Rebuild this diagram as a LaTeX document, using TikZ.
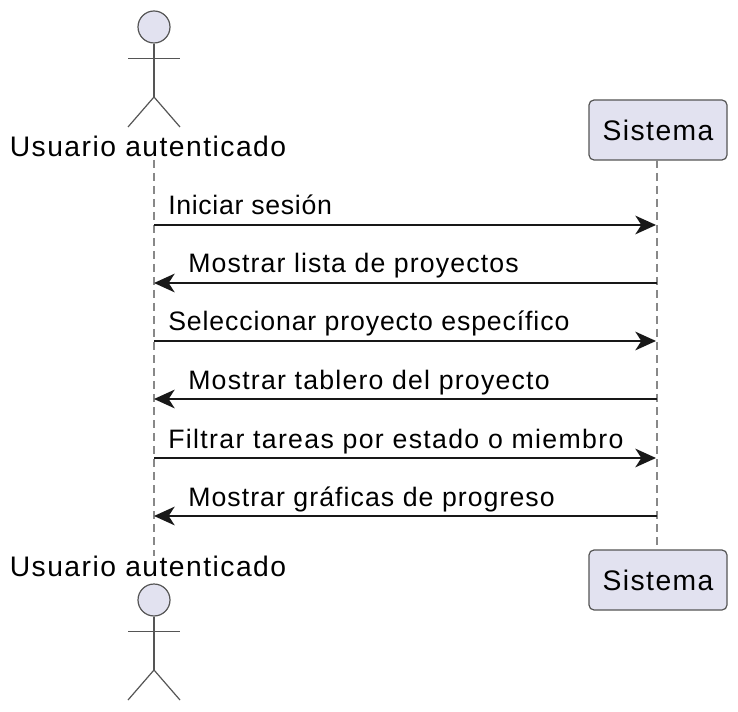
\documentclass[tikz,border=0pt]{standalone}
\usepackage{fontspec}
\setmainfont{Liberation Sans}
\usetikzlibrary{arrows.meta}

\definecolor{actorfill}{HTML}{E2E2F0}
\definecolor{actorline}{HTML}{555555}
\definecolor{msgline}{HTML}{181818}

\begin{document}
\begin{tikzpicture}[
    x=0.75pt,
    y=-0.75pt,
    >={Stealth[length=15.5pt,width=14pt,inset=4.5pt]},
    txt/.style = {
      font=\fontsize{21.2}{25}\selectfont\addfontfeature{LetterSpace=5.2},
      text = black,
      inner sep = 0pt
    },
    msg/.style = {
      font=\fontsize{20}{24}\selectfont\addfontfeature{LetterSpace=#1},
      text = black,
      inner sep = 0pt,
      anchor = base west
    },
    head/.style = {
      draw = actorline,
      fill = actorfill,
      circle,
      line width = 0.9pt,
      inner sep = 0pt,
      minimum size = 24pt
    },
    limb/.style = {
      draw = actorline,
      line width = 0.9pt
    },
    box/.style = {
      txt,
      draw = actorline,
      fill = actorfill,
      rectangle,
      rounded corners = 3.75pt,
      line width = 0.9pt,
      minimum width = 103.5pt,
      minimum height = 45pt
    },
    life/.style = {
      draw = actorline!70,
      line width = 1pt,
      dash pattern = on 6pt off 3.75pt
    },
    call/.style = {
      ->,
      draw = msgline,
      line width = 1.4pt
    }
  ]
  \useasboundingbox (0,0) rectangle (738,712);

  % lifelines
  \coordinate (usrtop) at (154,160);
  \coordinate (usrbot) at (154,556);
  \node[box] (systop) at (658,130) {Sistema};
  \node[box] (sysbot) at (658,580) {Sistema};
  \coordinate (systail) at (657,160);
  \coordinate (syshead) at (657,550);
  \draw[life] (usrtop) -- (usrbot);
  \draw[life] (systail) -- (syshead);

  % upper actor
  \node[head] (headA) at (154,27) {};
  \coordinate (armAl) at (128,58.5);
  \coordinate (armAr) at (180,58.5);
  \coordinate (hipA) at (154,97);
  \coordinate (legAl) at (128,127);
  \coordinate (legAr) at (180,127);
  \draw[limb] (headA.south) -- (hipA);
  \draw[limb] (armAl) -- (armAr);
  \draw[limb] (legAl) -- (hipA) -- (legAr);
  \node[txt] (nameA) at (148,146) {Usuario autenticado};

  % lower actor
  \node[txt] (nameB) at (148,566) {Usuario autenticado};
  \node[head] (headB) at (154,600) {};
  \coordinate (armBl) at (128,631.5);
  \coordinate (armBr) at (180,631.5);
  \coordinate (hipB) at (154,670);
  \coordinate (legBl) at (128,700);
  \coordinate (legBr) at (180,700);
  \draw[limb] (headB.south) -- (hipB);
  \draw[limb] (armBl) -- (armBr);
  \draw[limb] (legBl) -- (hipB) -- (legBr);

  % messages
  \coordinate (u1) at (154,225);
  \coordinate (s1) at (656,225);
  \coordinate (u2) at (154,283);
  \coordinate (s2) at (657,283);
  \coordinate (u3) at (154,341);
  \coordinate (s3) at (656,341);
  \coordinate (u4) at (154,399);
  \coordinate (s4) at (657,399);
  \coordinate (u5) at (154,458);
  \coordinate (s5) at (656,458);
  \coordinate (u6) at (154,516);
  \coordinate (s6) at (657,516);

  \draw[call] (u1) -- (s1);
  \draw[call] (s2) -- (u2);
  \draw[call] (u3) -- (s3);
  \draw[call] (s4) -- (u4);
  \draw[call] (u5) -- (s5);
  \draw[call] (s6) -- (u6);

  \node[msg=2.5] (m1) at (168,215) {Iniciar sesión};
  \node[msg=4.3] (m2) at (188,273) {Mostrar lista de proyectos};
  \node[msg=3.3] (m3) at (168,331) {Seleccionar proyecto específico};
  \node[msg=4.6] (m4) at (188,389) {Mostrar tablero del proyecto};
  \node[msg=5] (m5) at (168,448) {Filtrar tareas por estado o miembro};
  \node[msg=4] (m6) at (188,506) {Mostrar gráficas de progreso};
\end{tikzpicture}
\end{document}
